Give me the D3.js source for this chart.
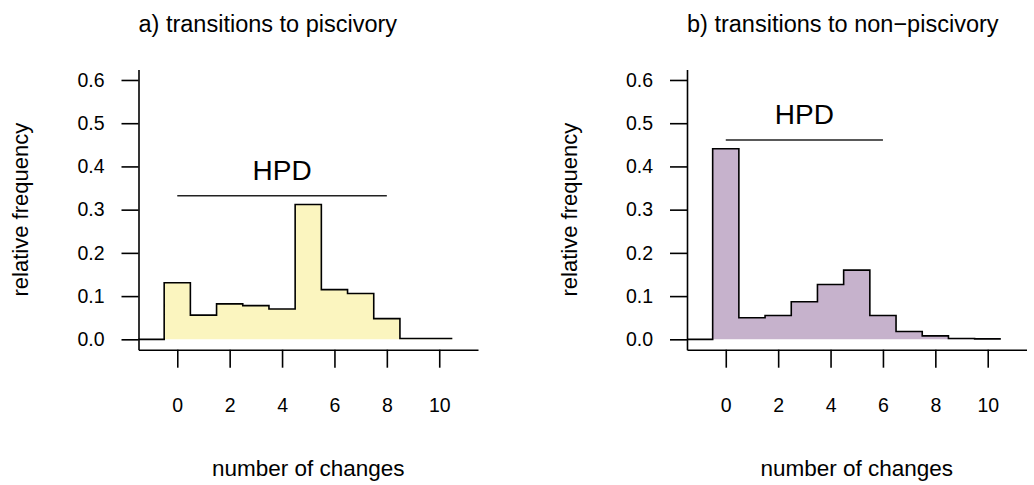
<!DOCTYPE html>
<html>
<head>
<meta charset="utf-8">
<script src="https://cdn.jsdelivr.net/npm/d3@7/dist/d3.min.js"></script>
<style>
  html, body { margin: 0; padding: 0; background: #fff; }
  svg { display: block; font-family: "Liberation Sans", Arial, Helvetica, sans-serif; }
</style>
</head>
<body>
<svg id="chart" width="1034" height="485"></svg>
<script>
// Number of changes (histogram bins, centred on integers)
const counts = [0, 1, 2, 3, 4, 5, 6, 7, 8, 9, 10];

// Relative frequency of each number of transitions
const freqToPiscivory    = [0.131, 0.056, 0.082, 0.078, 0.070, 0.312, 0.115, 0.106, 0.048, 0.002, 0.002];
const freqToNonPiscivory = [0.441, 0.050, 0.055, 0.087, 0.127, 0.160, 0.055, 0.018, 0.008, 0.002, 0.001];

// Highest posterior density intervals (number of changes)
const hpdToPiscivory    = [0, 8];
const hpdToNonPiscivory = [0, 6];

// Panel titles
const panelTitles = ["a) transitions to piscivory", "b) transitions to non\u2212piscivory"];

// Axis ticks
const xTickValues = [0, 2, 4, 6, 8, 10];
const yTickValues = [0, 0.1, 0.2, 0.3, 0.4, 0.5, 0.6];

const panels = [
  { title: panelTitles[0], freq: freqToPiscivory,    hpd: hpdToPiscivory,    fill: "#fbf5bf", left: 138.5 },
  { title: panelTitles[1], freq: freqToNonPiscivory, hpd: hpdToNonPiscivory, fill: "#c6b2cc", left: 687 }
];

const svg = d3.select("#chart");
const plotW = 339.5;
const plotTop = 69.6, plotBottom = 349.7;
const xDomain = [-1.48, 11.48];
const yDomain = [-0.024, 0.624];

panels.forEach(p => {
  const x = d3.scaleLinear().domain(xDomain).range([p.left, p.left + plotW]);
  const y = d3.scaleLinear().domain(yDomain).range([plotBottom, plotTop]);
  const g = svg.append("g");

  // Step outline points: one flat step per bin
  const steps = [];
  counts.forEach((c, i) => {
    steps.push([c - 0.5, p.freq[i]]);
    steps.push([c + 0.5, p.freq[i]]);
  });

  // Filled histogram area
  const area = d3.area()
    .x(d => x(d[0]))
    .y0(y(0))
    .y1(d => y(d[1]));
  g.append("path")
    .datum(steps)
    .attr("d", area)
    .attr("fill", p.fill)
    .attr("stroke", "none");

  // Outline, with a flat lead-in at zero from the left edge
  const outline = [[xDomain[0], 0], [counts[0] - 0.5, 0]].concat(steps);
  const line = d3.line().x(d => x(d[0])).y(d => y(d[1]));
  g.append("path")
    .datum(outline)
    .attr("d", line)
    .attr("fill", "none")
    .attr("stroke", "#000")
    .attr("stroke-width", 1.6)
    .attr("stroke-linejoin", "miter");

  // HPD bar and label, placed just above the tallest bin
  const hpdLevel = d3.max(p.freq) + 0.02;
  g.append("line")
    .attr("x1", x(p.hpd[0])).attr("x2", x(p.hpd[1]))
    .attr("y1", y(hpdLevel)).attr("y2", y(hpdLevel))
    .attr("stroke", "#222")
    .attr("stroke-width", 1.4);
  g.append("text")
    .attr("x", x((p.hpd[0] + p.hpd[1]) / 2))
    .attr("y", y(hpdLevel) - 16)
    .attr("text-anchor", "middle")
    .attr("font-size", 28)
    .attr("fill", "#000")
    .text("HPD");

  // Axes (L-shaped frame with outward ticks)
  const xAxis = d3.axisBottom(x)
    .tickValues(xTickValues)
    .tickSizeInner(18)
    .tickSizeOuter(0)
    .tickPadding(30)
    .tickFormat(d3.format("d"));
  const gx = g.append("g")
    .attr("transform", `translate(0,${plotBottom})`)
    .call(xAxis);

  const yAxis = d3.axisLeft(y)
    .tickValues(yTickValues)
    .tickSizeInner(17)
    .tickSizeOuter(0)
    .tickPadding(17)
    .tickFormat(d3.format(".1f"));
  const gy = g.append("g")
    .attr("transform", `translate(${p.left},0)`)
    .call(yAxis);

  [gx, gy].forEach(a => {
    a.selectAll("path.domain").attr("stroke", "#000").attr("stroke-width", 1.6);
    a.selectAll(".tick line").attr("stroke", "#000").attr("stroke-width", 1.6);
    a.selectAll(".tick text")
      .attr("font-size", 19.5)
      .attr("font-family", "'Liberation Sans', Arial, Helvetica, sans-serif")
      .attr("fill", "#000");
  });

  // Panel title
  g.append("text")
    .attr("x", p.left)
    .attr("y", 32)
    .attr("font-size", 23.5)
    .attr("fill", "#000")
    .text(p.title);

  // Axis titles
  g.append("text")
    .attr("x", p.left + plotW / 2)
    .attr("y", 476)
    .attr("text-anchor", "middle")
    .attr("font-size", 22.5)
    .attr("fill", "#000")
    .text("number of changes");

  g.append("text")
    .attr("transform", `translate(${p.left - 110.5},${(plotTop + plotBottom) / 2}) rotate(-90)`)
    .attr("text-anchor", "middle")
    .attr("font-size", 22)
    .attr("fill", "#000")
    .text("relative frequency");
});
</script>
</body>
</html>
